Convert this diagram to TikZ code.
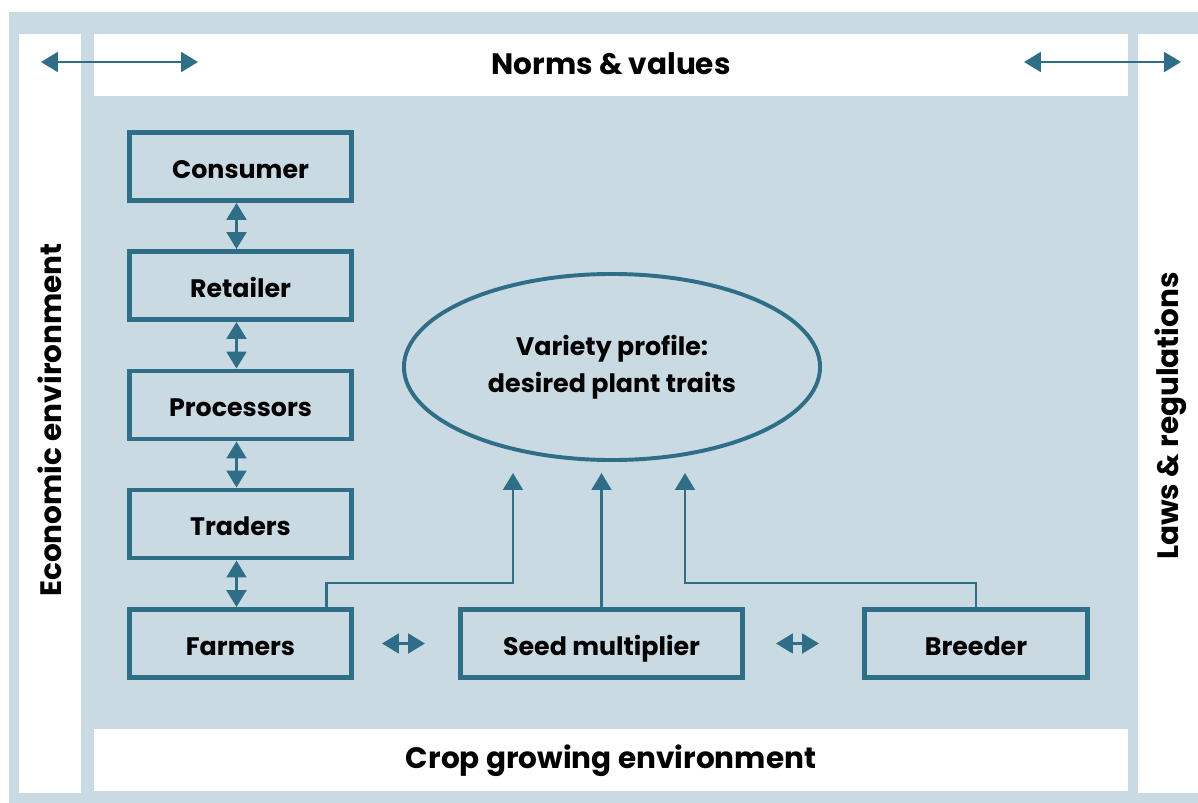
\documentclass[tikz,border=0pt]{standalone}
\usepackage{fontspec}
\setmainfont{Poppins}
\usetikzlibrary{arrows.meta,shapes.geometric}
\definecolor{seablue}{RGB}{46,110,135}
\definecolor{paleblue}{RGB}{201,218,227}

\begin{document}
\begin{tikzpicture}[thick,x=0.025cm,y=-0.025cm,font=\bfseries\fontsize{18}{26}\selectfont]
\tikzstyle{actor} = [draw=seablue,line width=3.5pt,shape=rectangle,minimum width=5.55cm,minimum height=1.7cm,inner sep=0pt,text height=17pt,text depth=0pt]
\tikzstyle{profile} = [draw=seablue,line width=2.8pt,shape=ellipse,minimum width=10.4cm,minimum height=4.65cm,inner sep=0pt,align=center]
\tikzstyle{env} = [font=\bfseries\fontsize{21}{26}\selectfont]
\tikzstyle{both} = [seablue,line width=2pt,{Triangle[length=12pt,width=14pt]}-{Triangle[length=12pt,width=14pt]}]
\tikzstyle{link} = [seablue,line width=1.8pt,-{Triangle[length=12pt,width=14pt]}]
\useasboundingbox (0,0) rectangle (1198,803);
% frame of the four environments
\fill[paleblue] (9,12) rectangle (1198,803);
\fill[white] (19,34) rectangle (81,793);
\fill[white] (1138,34) rectangle (1198,793);
\fill[white] (94,34) rectangle (1128,96);
\fill[white] (94,729) rectangle (1128,791);
\node[env] (norms) at (611,64) {Norms \& values};
\node[env] (crop) at (611,761) {Crop growing environment};
\node[env,rotate=90] (economic) at (50,420) {Economic environment};
\node[env,rotate=90] (laws) at (1171,416) {Laws \& regulations};
\coordinate (normsL1) at (41,62);
\coordinate (normsL2) at (198,62);
\coordinate (normsR1) at (1024,62);
\coordinate (normsR2) at (1181,62);
\draw [both] (normsL1) -- (normsL2);
\draw [both] (normsR1) -- (normsR2);
% the chain
\node[actor] (consumer) at (240.5,166.5) {Consumer};
\node[actor] (retailer) at (240.5,285.5) {Retailer};
\node[actor] (processors) at (240.5,405) {Processors};
\node[actor] (traders) at (240.5,524) {Traders};
\node[actor] (farmers) at (240.5,643.5) {Farmers};
\node[actor,minimum width=7.05cm] (seed) at (601.5,643.5) {Seed multiplier};
\node[actor,minimum width=5.575cm] (breeder) at (976,643.5) {Breeder};
\node[profile] (profile) at (612,367) {Variety profile:\\desired plant traits};
\draw [both] ([xshift=-0.1cm]consumer.south) -- ([xshift=-0.1cm]retailer.north);
\draw [both] ([xshift=-0.1cm]retailer.south) -- ([xshift=-0.1cm]processors.north);
\draw [both] ([xshift=-0.1cm]processors.south) -- ([xshift=-0.1cm]traders.north);
\draw [both] ([xshift=-0.1cm]traders.south) -- ([xshift=-0.1cm]farmers.north);
\draw [both,shorten <=0.7cm,shorten >=0.825cm] (farmers) -- (seed);
\draw [both,shorten <=0.775cm,shorten >=1.075cm] (seed) -- (breeder);
% inputs to the profile
\coordinate (tipF) at (513,473);
\coordinate (tipS) at (601.5,473);
\coordinate (tipB) at (685,473);
\draw [link] ([shift={(86,0)}]farmers.north) -- ++(0,-24) -| (tipF);
\draw [link] (seed.north) -- (tipS);
\draw [link] (breeder.north) -- ++(0,-24) -| (tipB);
\end{tikzpicture}
\end{document}
